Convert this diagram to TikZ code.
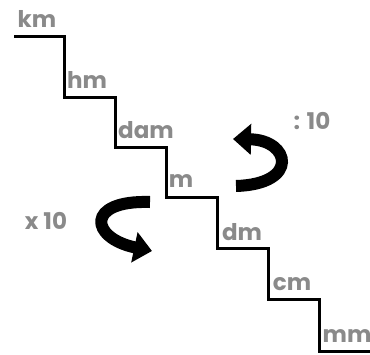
\documentclass[tikz,border=0pt]{standalone}
\usepackage{fontspec}
\setmainfont{Poppins}
\usepackage{tikz}
\usetikzlibrary{arrows.meta}
\definecolor{unitc}{HTML}{8A8A8A}

\begin{document}
\begin{tikzpicture}[x=1pt, y=-1pt,
    unit/.style={font=\fontsize{23}{23}\selectfont\bfseries, text=unitc, inner sep=0pt},
    stair/.style={line width=3pt, line join=miter},
    turn/.style={line width=12pt, -{Triangle[length=18pt,width=30pt]}}]
  \useasboundingbox (0,0) rectangle (370,354);
  % the stairs
  \draw[stair] (14,36) -- (64,36) -- (64,97) -- (115,97) -- (115,147) -- (166,147)
     -- (166,197) -- (217,197) -- (217,248) -- (268,248) -- (268,299) -- (319,299)
     -- (319,351) -- (370,351);
  \foreach \u/\x/\y in {km/37/19, hm/87/80, dam/146/130, m/181/181, dm/242/232, cm/292/284, mm/347/336}
     \node[unit] (\u) at (\x,\y) {\u};
  \node[unit] (div) at (312,121) {: 10};
  \node[unit] (mul) at (46,221) {x 10};
  % turning arrows
  \draw[turn] (236,186) .. controls (300,184) and (290,140) .. (233,139);
  \draw[turn] (150,202) .. controls (85,200) and (90,238) .. (152,251);
\end{tikzpicture}
\end{document}
